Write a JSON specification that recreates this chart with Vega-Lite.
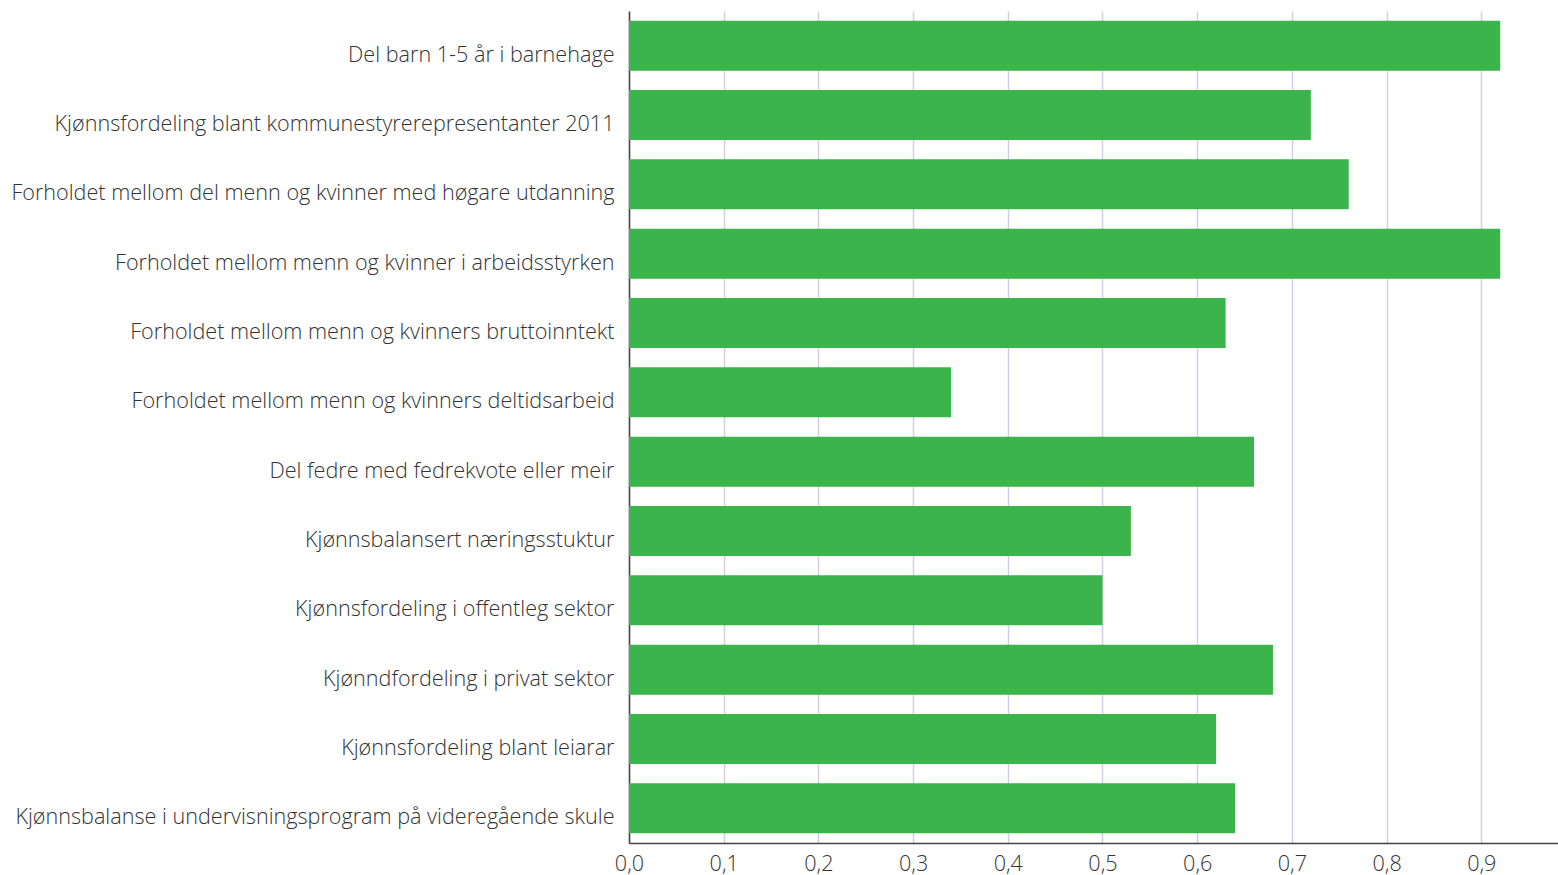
{
  "$schema": "https://vega.github.io/schema/vega-lite/v6.json",
  "width": 929,
  "height": 832,
  "autosize": {"type": "none"},
  "padding": {"left": 629, "top": 11, "right": 0, "bottom": 32},
  "background": "white",
  "data": {
    "values": [
      {"kategori": "Del barn 1-5 år i barnehage", "verdi": 0.92},
      {"kategori": "Kjønnsfordeling blant kommunestyrerepresentanter 2011", "verdi": 0.72},
      {"kategori": "Forholdet mellom del menn og kvinner med høgare utdanning", "verdi": 0.76},
      {"kategori": "Forholdet mellom menn og kvinner i arbeidsstyrken", "verdi": 0.92},
      {"kategori": "Forholdet mellom menn og kvinners bruttoinntekt", "verdi": 0.63},
      {"kategori": "Forholdet mellom menn og kvinners deltidsarbeid", "verdi": 0.34},
      {"kategori": "Del fedre med fedrekvote eller meir", "verdi": 0.66},
      {"kategori": "Kjønnsbalansert næringsstuktur", "verdi": 0.53},
      {"kategori": "Kjønnsfordeling i offentleg sektor", "verdi": 0.5},
      {"kategori": "Kjønndfordeling i privat sektor", "verdi": 0.68},
      {"kategori": "Kjønnsfordeling blant leiarar", "verdi": 0.62},
      {"kategori": "Kjønnsbalanse i undervisningsprogram på videregående skule", "verdi": 0.64}
    ]
  },
  "mark": {"type": "bar", "color": "#3BB54B"},
  "encoding": {
    "y": {
      "field": "kategori",
      "type": "nominal",
      "sort": null,
      "scale": {"paddingInner": 0.28, "paddingOuter": 0.14},
      "axis": {
        "title": null,
        "ticks": false,
        "domainColor": "#444444",
        "domainWidth": 1.5,
        "labelFont": "Open Sans",
        "labelFontSize": 21.6,
        "labelFontWeight": 300,
        "labelColor": "#333333",
        "labelPadding": 15,
        "labelOffset": 10,
        "labelLimit": 700,
        "grid": false
      }
    },
    "x": {
      "field": "verdi",
      "type": "quantitative",
      "scale": {"domain": [0, 0.981], "nice": false, "zero": true},
      "axis": {
        "title": null,
        "values": [0, 0.1, 0.2, 0.3, 0.4, 0.5, 0.6, 0.7, 0.8, 0.9],
        "labelExpr": "replace(format(datum.value, '.1f'), '.', ',')",
        "ticks": false,
        "grid": true,
        "gridColor": "#D0CDE6",
        "gridWidth": 1.5,
        "domainColor": "#444444",
        "domainWidth": 1.5,
        "labelFont": "Open Sans",
        "labelFontSize": 21.6,
        "labelFontWeight": 300,
        "labelColor": "#333333",
        "labelPadding": 10,
        "labelFlush": false
      }
    }
  },
  "config": {"view": {"stroke": null}}
}
